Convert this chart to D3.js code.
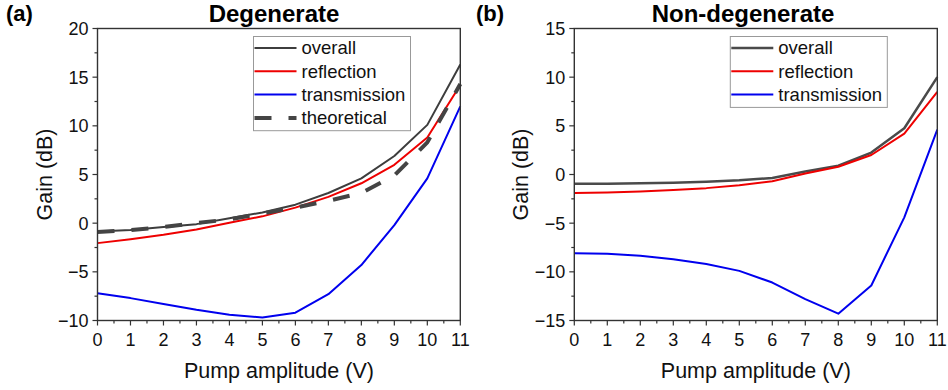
<!DOCTYPE html>
<html>
<head>
<meta charset="utf-8">
<script src="https://cdn.jsdelivr.net/npm/d3@7"></script>
<style>
    body { margin: 0; background: #fff; }
    svg { display: block; }
</style>
</head>
<body>
<svg id="svg" width="948" height="390"></svg>
<script>
    var font = "Arial, 'Liberation Sans', sans-serif";

    // pump amplitude (V)
    var pump = [0, 1, 2, 3, 4, 5, 6, 7, 8, 9, 10, 11];
    var xTicks = [0, 1, 2, 3, 4, 5, 6, 7, 8, 9, 10, 11];

    // (a) degenerate
    var degOverall = [-0.85, -0.7, -0.4, -0.1, 0.5, 1.1, 1.9, 3.1, 4.6, 6.9, 10.1, 16.3];
    var degReflection = [-2.05, -1.65, -1.2, -0.65, 0.05, 0.7, 1.6, 2.7, 4.1, 6.0, 8.8, 14.2];
    var degTransmission = [-7.2, -7.7, -8.3, -8.9, -9.4, -9.7, -9.2, -7.3, -4.3, -0.2, 4.6, 12.0];
    var degTheoretical = [-0.9, -0.7, -0.4, 0.0, 0.4, 1.0, 1.6, 2.3, 3.1, 4.9, 8.3, 14.3];
    var degYTicks = [-10, -5, 0, 5, 10, 15, 20];

    // (b) non-degenerate
    var ndOverall = [-0.95, -0.95, -0.9, -0.85, -0.75, -0.6, -0.35, 0.3, 0.9, 2.25, 4.75, 10.0];
    var ndReflection = [-1.9, -1.85, -1.75, -1.6, -1.4, -1.1, -0.7, 0.1, 0.8, 2.0, 4.2, 8.5];
    var ndTransmission = [-8.1, -8.15, -8.35, -8.7, -9.2, -9.9, -11.1, -12.8, -14.3, -11.4, -4.4, 4.6];
    var ndYTicks = [-15, -10, -5, 0, 5, 10, 15];

    var svg = d3.select("#svg");

    function fmt(v) {
        return v < 0 ? "\u2212" + Math.abs(v) : "" + v;
    }

    function drawPanel(p) {
        var g = svg.append("g");
        var x = d3.scaleLinear().domain([0, 11]).range([p.left, p.right]);
        var y = d3.scaleLinear().domain(p.yDomain).range([p.bottom, p.top]);

        // series
        var line = d3.line()
            .x(function (d, i) { return x(pump[i]); })
            .y(function (d) { return y(d); });

        p.series.forEach(function (s) {
            g.append("path")
                .datum(s.values)
                .attr("d", line)
                .attr("fill", "none")
                .attr("stroke", s.color)
                .attr("stroke-width", s.width)
                .attr("stroke-dasharray", s.dash || null)
                .attr("stroke-linejoin", "round");
        });

        // frame
        g.append("rect")
            .attr("x", p.left).attr("y", p.top)
            .attr("width", p.right - p.left).attr("height", p.bottom - p.top)
            .attr("fill", "none").attr("stroke", "#333").attr("stroke-width", 1.4);

        // x axis ticks
        var xMinor = d3.range(0.5, 11, 1);
        g.selectAll(".xmaj").data(xTicks).enter().append("line")
            .attr("x1", function (d) { return x(d); }).attr("x2", function (d) { return x(d); })
            .attr("y1", p.bottom).attr("y2", p.bottom + 5)
            .attr("stroke", "#333").attr("stroke-width", 1.2);
        g.selectAll(".xmin").data(xMinor).enter().append("line")
            .attr("x1", function (d) { return x(d); }).attr("x2", function (d) { return x(d); })
            .attr("y1", p.bottom).attr("y2", p.bottom + 3)
            .attr("stroke", "#333").attr("stroke-width", 1.2);
        g.selectAll(".xlab").data(xTicks).enter().append("text")
            .attr("x", function (d) { return x(d); })
            .attr("y", p.bottom + 25)
            .attr("text-anchor", "middle")
            .attr("font-family", font).attr("font-size", "18px").attr("fill", "#111")
            .text(function (d) { return d; });

        // y axis ticks
        var yMinor = p.yTicks.slice(0, -1).map(function (d) { return d + 2.5; });
        g.selectAll(".ymaj").data(p.yTicks).enter().append("line")
            .attr("x1", p.left - 5).attr("x2", p.left)
            .attr("y1", function (d) { return y(d); }).attr("y2", function (d) { return y(d); })
            .attr("stroke", "#333").attr("stroke-width", 1.2);
        g.selectAll(".ymin").data(yMinor).enter().append("line")
            .attr("x1", p.left - 3).attr("x2", p.left)
            .attr("y1", function (d) { return y(d); }).attr("y2", function (d) { return y(d); })
            .attr("stroke", "#333").attr("stroke-width", 1.2);
        g.selectAll(".ylab").data(p.yTicks).enter().append("text")
            .attr("x", p.left - 9)
            .attr("y", function (d) { return y(d); })
            .attr("dy", "0.36em")
            .attr("text-anchor", "end")
            .attr("font-family", font).attr("font-size", "18px").attr("fill", "#111")
            .text(function (d) { return fmt(d); });

        // axis titles
        g.append("text")
            .attr("x", (p.left + p.right) / 2).attr("y", 378)
            .attr("text-anchor", "middle")
            .attr("font-family", font).attr("font-size", "21.5px").attr("fill", "#111")
            .text("Pump amplitude (V)");
        g.append("text")
            .attr("transform", "translate(" + (p.left - 46) + "," + ((p.top + p.bottom) / 2) + ") rotate(-90)")
            .attr("text-anchor", "middle")
            .attr("font-family", font).attr("font-size", "21.5px").attr("fill", "#111")
            .text("Gain (dB)");

        // title and panel label
        g.append("text")
            .attr("x", p.titleX).attr("y", 22)
            .attr("text-anchor", "middle")
            .attr("font-family", font).attr("font-size", "24px").attr("font-weight", "bold")
            .text(p.title);
        g.append("text")
            .attr("x", p.labelX).attr("y", 21)
            .attr("font-family", font).attr("font-size", "22px").attr("font-weight", "bold")
            .text(p.label);

        // legend
        var lx = p.left + 156, ly = 36.5;
        var lh = p.series.length * 23.3 + 1;
        g.append("rect")
            .attr("x", lx).attr("y", ly)
            .attr("width", 157).attr("height", lh)
            .attr("fill", "#fff").attr("stroke", "#999").attr("stroke-width", 1);
        p.series.forEach(function (s, i) {
            var cy = ly + 11.5 + i * 23.3;
            g.append("line")
                .attr("x1", lx + 1).attr("x2", lx + 43)
                .attr("y1", cy).attr("y2", cy)
                .attr("stroke", s.color).attr("stroke-width", s.width)
                .attr("stroke-dasharray", s.dash || null);
            g.append("text")
                .attr("x", lx + 48).attr("y", cy)
                .attr("dy", "0.35em")
                .attr("font-family", font).attr("font-size", "18.5px").attr("fill", "#111")
                .text(s.name);
        });
    }

    drawPanel({
        left: 97.5, right: 460.3, top: 28.5, bottom: 320.5,
        yDomain: [-10, 20], yTicks: degYTicks,
        title: "Degenerate", titleX: 274, label: "(a)", labelX: 6,
        series: [
            { name: "overall", values: degOverall, color: "#3d3d3d", width: 2 },
            { name: "reflection", values: degReflection, color: "#ee0000", width: 2 },
            { name: "transmission", values: degTransmission, color: "#0000ee", width: 2 },
            { name: "theoretical", values: degTheoretical, color: "#444", width: 4, dash: "17,17" }
        ]
    });

    drawPanel({
        left: 574.3, right: 937.3, top: 28.5, bottom: 320.5,
        yDomain: [-15, 15], yTicks: ndYTicks,
        title: "Non-degenerate", titleX: 743, label: "(b)", labelX: 476,
        series: [
            { name: "overall", values: ndOverall, color: "#4a4a4a", width: 2.5 },
            { name: "reflection", values: ndReflection, color: "#ee0000", width: 2 },
            { name: "transmission", values: ndTransmission, color: "#0000ee", width: 2 }
        ]
    });
</script>
</body>
</html>
